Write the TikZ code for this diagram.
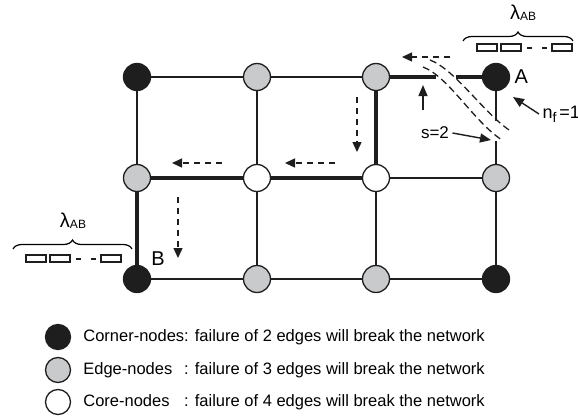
\documentclass[tikz,border=0pt]{standalone}
\usepackage{fontspec}
\setmainfont{Liberation Sans}
\usetikzlibrary{arrows.meta,calc,positioning,decorations.pathreplacing}

\definecolor{nodeink}{RGB}{30,30,30}
\definecolor{nodegray}{RGB}{201,202,204}

\begin{document}
\begin{tikzpicture}[x=1pt, y=-1pt]
        \tikzstyle{cornernode} = [circle, draw=nodeink, line width=1.3pt, fill=nodeink,
        minimum size=27pt, inner sep=0pt]
        \tikzstyle{edgenode} = [cornernode, fill=nodegray]
        \tikzstyle{corenode} = [cornernode, fill=white]
        \tikzset{link/.style={draw, line width=1.4pt, color=nodeink}}
        \tikzset{route/.style={draw, line width=3.8pt, color=nodeink}}
        \tikzset{move/.style={draw, line width=1.4pt, color=nodeink, dash pattern=on 6pt off 5pt,
        -{Triangle[length=10pt,width=9pt]}}}
        \tikzset{pointer/.style={draw, line width=1.4pt, color=nodeink, -{Triangle[length=11pt,width=9pt]}}}
        \tikzset{cutline/.style={draw, dash pattern=on 7pt off 4pt, line width=1.3pt, color=nodeink}}
        \tikzset{packet/.style={draw, line width=1.3pt, color=nodeink}}
        \tikzset{lambrace/.style={draw, decorate, decoration={brace, amplitude=9pt}, line width=1.2pt}}

        \useasboundingbox (0,0) rectangle (578,420);

        % grid of nodes
        \node [cornernode] (n11) at (137,77) {};
        \node [edgenode]   (n12) at (257,77) {};
        \node [edgenode]   (n13) at (376,77) {};
        \node [cornernode] (n14) at (496,77) {};
        \node [edgenode]   (n21) at (137,178) {};
        \node [corenode]   (n22) at (257,178) {};
        \node [corenode]   (n23) at (376,178) {};
        \node [edgenode]   (n24) at (496,178) {};
        \node [cornernode] (n31) at (137,279) {};
        \node [edgenode]   (n32) at (257,279) {};
        \node [edgenode]   (n33) at (376,279) {};
        \node [cornernode] (n34) at (496,279) {};

        \node [right=1pt of n14, font=\fontsize{20}{20}\selectfont] (A) {A};
        \node [font=\fontsize{20}{20}\selectfont] (B) at (158,259) {B};

        % plain links
        \path [link] (n11) -- (n12);
        \path [link] (n12) -- (n13);
        \path [link] (n11) -- (n21);
        \path [link] (n12) -- (n22);
        \path [link] (n23) -- (n24);
        \path [link] (n24) -- (n34);
        \path [link] (n22) -- (n32);
        \path [link] (n23) -- (n33);
        \path [link] (n31) -- (n32);
        \path [link] (n32) -- (n33);
        \path [link] (n33) -- (n34);

        % route from A to B
        \path [route] (n13) -- (n23);
        \path [route] (n23) -- (n22);
        \path [route] (n22) -- (n21);
        \path [route] (n21) -- (n31);

        % links broken by the cut
        \coordinate (cutA) at (436,77);
        \coordinate (cutB) at (456,77);
        \coordinate (cutC) at (496,121);
        \coordinate (cutD) at (496,141);
        \path [route] (n13) -- (cutA);
        \path [route] (cutB) -- (n14);
        \path [link] (n14) -- (cutC);
        \path [link] (cutD) -- (n24);
        \path [cutline] (430,60) .. controls (456,70) and (484,114) .. (512,132);
        \path [cutline] (423,67) .. controls (449,77) and (474,122) .. (502,140);

        % direction of the traffic
        \coordinate (m1s) at (450,57);  \coordinate (m1e) at (402,57);
        \coordinate (m2s) at (357,97);  \coordinate (m2e) at (357,152);
        \coordinate (m3s) at (335,163); \coordinate (m3e) at (285,163);
        \coordinate (m4s) at (222,163); \coordinate (m4e) at (172,163);
        \coordinate (m5s) at (178,197); \coordinate (m5e) at (178,258);
        \path [move] (m1s) -- (m1e);
        \path [move] (m2s) -- (m2e);
        \path [move] (m3s) -- (m3e);
        \path [move] (m4s) -- (m4e);
        \path [move] (m5s) -- (m5e);

        % s and n_f
        \node [font=\fontsize{17}{17}\selectfont] (slab) at (435,133) {s=2};
        \coordinate (sup1) at (423,110);
        \coordinate (sup2) at (423,85);
        \coordinate (scut) at (491,140);
        \path [pointer] (sup1) -- (sup2);
        \path [pointer] (slab.east) -- (scut);
        \node [anchor=west, font=\fontsize{18}{18}\selectfont] (nf) at (539,114)
        {n\raisebox{-0.45ex}{\fontsize{14}{14}\selectfont f}\,=1};
        \coordinate (nfend) at (513,97);
        \path [pointer] (nf.west) -- (nfend);

        % waiting packets
        \draw [lambrace] (463,41) -- (573,41);
        \draw [lambrace] (13,249) -- (132,249);
        \node [font=\fontsize{20}{20}\selectfont] (lamA) at (523,13)
        {λ\raisebox{-1pt}{\fontsize{12}{12}\selectfont AB}};
        \node [font=\fontsize{20}{20}\selectfont] (lamB) at (73,221)
        {λ\raisebox{-1pt}{\fontsize{12}{12}\selectfont AB}};
        \foreach \px/\py in {477/44, 26/255} {
            \draw [packet] (\px,\py) rectangle ++(20,7);
            \draw [packet] (\px+24,\py) rectangle ++(20,7);
            \draw [packet, line width=1.8pt] (\px+50,\py+4) -- ++(5,0);
            \draw [packet, line width=1.8pt] (\px+65,\py+4) -- ++(5,0);
            \draw [packet] (\px+75,\py) rectangle ++(20,7);
        }

        % legend
        \tikzstyle{keytext} = [font=\fontsize{16.5}{20}\selectfont, inner sep=3pt]
        \node [cornernode, minimum size=25pt] (kcorner) at (58,337) {};
        \node [edgenode, minimum size=25pt]   (kedge)   at (58,370) {};
        \node [corenode, minimum size=25pt]   (kcore)   at (58,402) {};
        \node [keytext, right=9pt of kcorner] (tcorner) {Corner-nodes: failure of 2 edges will break the network};
        \node [keytext, right=9pt of kedge] (tedge) {\rlap{Edge-nodes}\phantom{Corner-nodes}: failure of 3 edges will break the network};
        \node [keytext, right=9pt of kcore] (tcore) {\rlap{Core-nodes}\phantom{Corner-nodes}: failure of 4 edges will break the network};
\end{tikzpicture}
\end{document}
